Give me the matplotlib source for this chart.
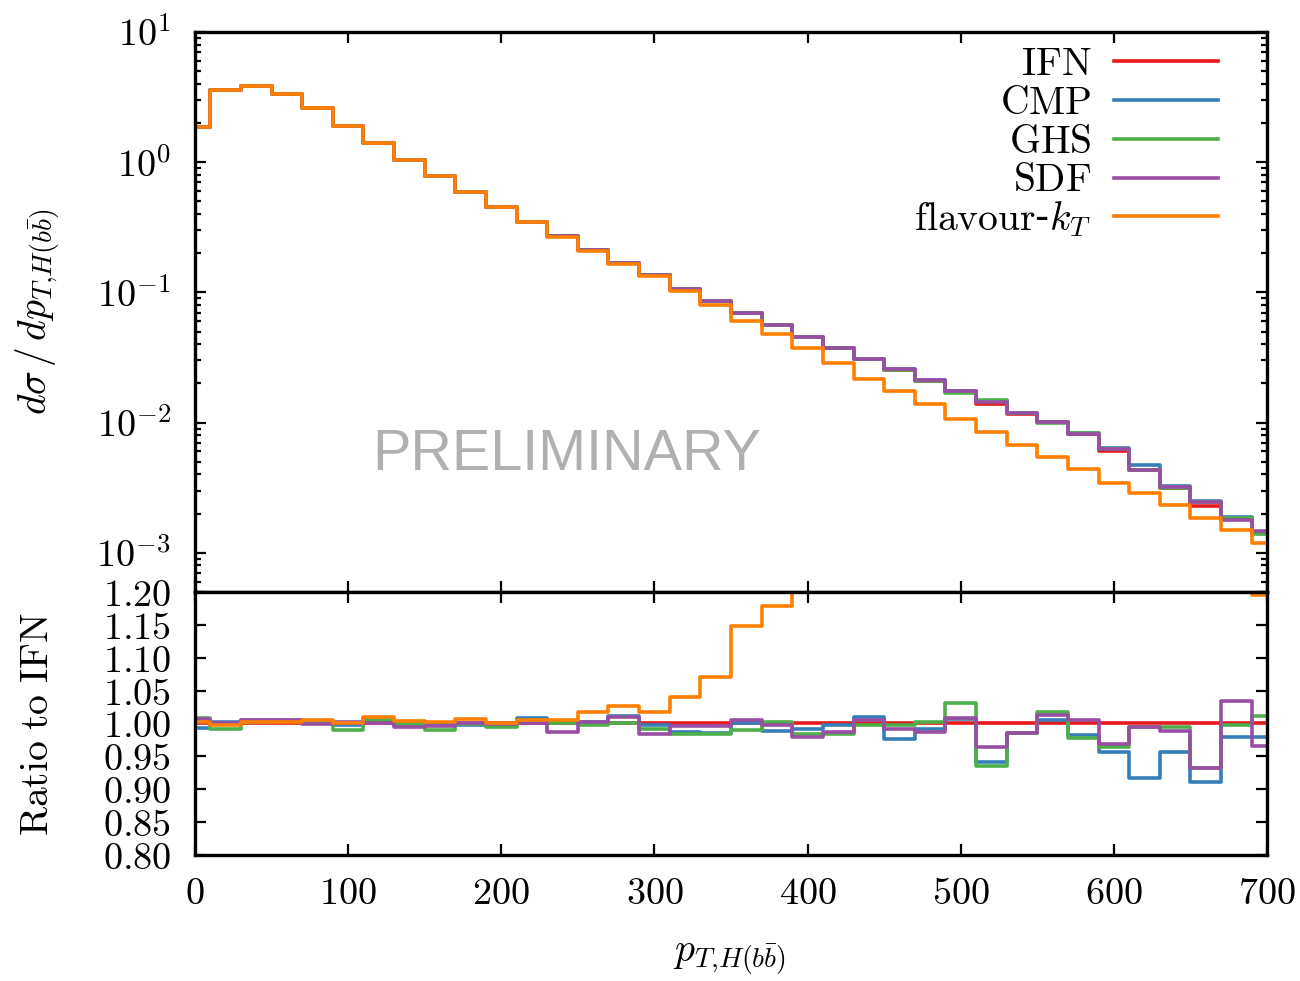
import numpy as np
import matplotlib
matplotlib.use('Agg')
import matplotlib.pyplot as plt
from matplotlib.ticker import FuncFormatter, LogLocator, NullFormatter, MultipleLocator

plt.rcParams['mathtext.fontset'] = 'cm'

# bin centres (histeps-style, 20 GeV wide)
pt = list(range(0, 701, 20))

# top panel: dsigma/dpT
ifn = [1.85, 3.6, 3.88, 3.35, 2.60, 1.91, 1.41, 1.045, 0.788, 0.590, 0.456, 0.350,
       0.270, 0.211, 0.168, 0.135, 0.1067, 0.0857, 0.0698, 0.0565, 0.0457, 0.0377,
       0.0310, 0.0254, 0.0209, 0.01754, 0.0139, 0.01166, 0.01015, 0.0082, 0.00608,
       0.00432, 0.00314, 0.00229, 0.00186, 0.00141]
cmp_ = [1.85, 3.6, 3.88, 3.35, 2.60, 1.91, 1.41, 1.045, 0.788, 0.590, 0.456, 0.350,
        0.270, 0.211, 0.168, 0.135, 0.1067, 0.0857, 0.0698, 0.0565, 0.0457, 0.0377,
        0.0310, 0.0260, 0.0211, 0.01742, 0.01477, 0.01183, 0.0101, 0.00834, 0.00635,
        0.00471, 0.00328, 0.00251, 0.0019, 0.00144]
ghs = [1.85, 3.6, 3.88, 3.35, 2.60, 1.91, 1.41, 1.045, 0.788, 0.590, 0.456, 0.350,
       0.270, 0.211, 0.168, 0.135, 0.1067, 0.0857, 0.0698, 0.0565, 0.0457, 0.0377,
       0.0310, 0.02548, 0.02086, 0.01701, 0.01485, 0.01183, 0.00997, 0.00838, 0.0063,
       0.00434, 0.00316, 0.00245, 0.00186, 0.00139]
sdf = [1.85, 3.6, 3.88, 3.35, 2.60, 1.91, 1.41, 1.045, 0.788, 0.590, 0.456, 0.350,
       0.270, 0.211, 0.168, 0.135, 0.1067, 0.0857, 0.0698, 0.0565, 0.0457, 0.0377,
       0.0310, 0.0256, 0.02118, 0.01738, 0.0144, 0.01183, 0.01002, 0.00816, 0.00627,
       0.00434, 0.00318, 0.00246, 0.0018, 0.00146]
flav = [1.85, 3.6, 3.88, 3.35, 2.59, 1.91, 1.40, 1.04, 0.786, 0.586, 0.456, 0.348,
        0.268, 0.207, 0.164, 0.133, 0.1025, 0.080, 0.0608, 0.048, 0.0374, 0.0289,
        0.0218, 0.01754, 0.01387, 0.01064, 0.0084, 0.00673, 0.0054, 0.0044, 0.00342,
        0.00287, 0.00231, 0.00184, 0.0015, 0.00118]

# bottom panel: ratio
r_ifn = [1.0] * 36
r_cmp = [0.993, 1.002, 1.005, 1.005, 1.002, 0.997, 1.003, 0.998, 0.997, 0.998, 0.998, 1.009,
         1.002, 1.002, 1.012, 0.997, 0.987, 0.986, 1.0, 0.989, 0.991, 0.997, 1.010, 0.976,
         0.991, 1.007, 0.941, 0.986, 1.005, 0.983, 0.957, 0.917, 0.956, 0.911, 0.979, 0.98]
r_ghs = [1.009, 0.992, 1.003, 1.004, 1.003, 0.990, 1.005, 0.999, 0.990, 0.999, 0.995, 1.003,
         1.0, 0.998, 1.0, 0.992, 0.984, 0.984, 0.990, 1.002, 0.984, 0.984, 0.997, 0.997,
         1.002, 1.031, 0.936, 0.986, 1.018, 0.978, 0.965, 0.995, 0.995, 0.933, 0.998, 1.011]
r_sdf = [1.007, 1.0, 1.006, 1.005, 0.999, 1.002, 1.0, 0.994, 0.996, 1.001, 0.999, 1.0,
         0.987, 1.003, 1.010, 0.984, 0.996, 0.996, 1.006, 0.997, 0.980, 0.987, 1.006, 0.992,
         0.987, 1.009, 0.965, 0.986, 1.013, 1.005, 0.969, 0.995, 0.988, 0.932, 1.034, 0.966]
r_flav = [1.002, 0.997, 1.002, 1.003, 1.006, 1.0, 1.010, 1.004, 1.003, 1.007, 1.0, 1.006,
          1.006, 1.017, 1.026, 1.017, 1.041, 1.071, 1.148, 1.178, 1.222, 1.304, 1.422, 1.448,
          1.507, 1.648, 1.655, 1.733, 1.88, 1.864, 1.778, 1.505, 1.359, 1.245, 1.24, 1.195]

labels = [r'$\mathrm{IFN}$', r'$\mathrm{CMP}$', r'$\mathrm{GHS}$', r'$\mathrm{SDF}$',
          r'$\mathrm{flavour}$-$k_T$']
colors = ['#e41a1c', '#377eb8', '#4daf4a', '#984ea3', '#ff7f00']

LW = 2.6
FS = 28.5
TFS = 27.5

fig = plt.figure(figsize=(13, 9.81), dpi=100)
ax1 = fig.add_axes([0.15, 0.39653, 0.8246, 0.57085])
ax2 = fig.add_axes([0.15, 0.12844, 0.8246, 0.2681])

for y, lab, c in zip([ifn, cmp_, ghs, sdf, flav], labels, colors):
    ax1.step(pt, y, where='mid', color=c, lw=LW, label=lab)
for y, c in zip([r_ifn, r_cmp, r_ghs, r_sdf, r_flav], colors):
    ax2.step(pt, y, where='mid', color=c, lw=LW)

ax1.set_yscale('log')
ax1.set_ylim(5e-4, 10)
ax1.set_xlim(0, 700)
ax2.set_xlim(0, 700)
ax2.set_ylim(0.8, 1.2)

ax1.yaxis.set_major_locator(LogLocator(base=10, numticks=20))
ax1.yaxis.set_minor_locator(LogLocator(base=10, subs=np.arange(2, 10), numticks=20))
ax1.yaxis.set_minor_formatter(NullFormatter())
ax1.yaxis.set_major_formatter(FuncFormatter(lambda v, p: r'$10^{%d}$' % round(np.log10(v))))
ax1.xaxis.set_major_locator(MultipleLocator(100))
ax1.xaxis.set_major_formatter(NullFormatter())

ax2.xaxis.set_major_locator(MultipleLocator(100))
ax2.xaxis.set_major_formatter(FuncFormatter(lambda v, p: r'$%d$' % v))
ax2.yaxis.set_major_locator(MultipleLocator(0.05))
ax2.yaxis.set_major_formatter(FuncFormatter(lambda v, p: r'$%.2f$' % v))

for ax in (ax1, ax2):
    for s in ax.spines.values():
        s.set_linewidth(2.4)
    ax.tick_params(which='both', direction='in', top=True, right=True, width=1.6,
                   labelsize=TFS)
    ax.tick_params(axis='y', pad=17)
    ax.tick_params(axis='x', pad=15)
    ax.tick_params(which='major', length=8)
    ax.tick_params(which='minor', length=4.5)

fig.text(38 / 1300, 1 - 312 / 981, r'$d\sigma\,/\,dp_{T{,}H(b\bar{b})}$', rotation=90,
         ha='center', va='center', fontsize=FS)
fig.text(37 / 1300, 1 - 724 / 981, r'$\mathrm{Ratio\ to\ IFN}$', rotation=90,
         ha='center', va='center', fontsize=FS)
fig.text(729 / 1300, 1 - 957 / 981, r'$p_{T{,}H(b\bar{b})}$', ha='center', va='center',
         fontsize=FS)

ax1.text(0.347, 0.218, 'PRELIMINARY', transform=ax1.transAxes, ha='center', va='baseline',
         fontsize=41.4, color='#b0b0b0', family='Liberation Sans')

ax1.legend(loc='upper right', bbox_to_anchor=(0.954, 0.9786), frameon=False, fontsize=FS,
           markerfirst=False, handlelength=2.62, handletextpad=0.56, labelspacing=-0.03,
           borderpad=0, borderaxespad=0)

fig.savefig('out.png', dpi=100)
